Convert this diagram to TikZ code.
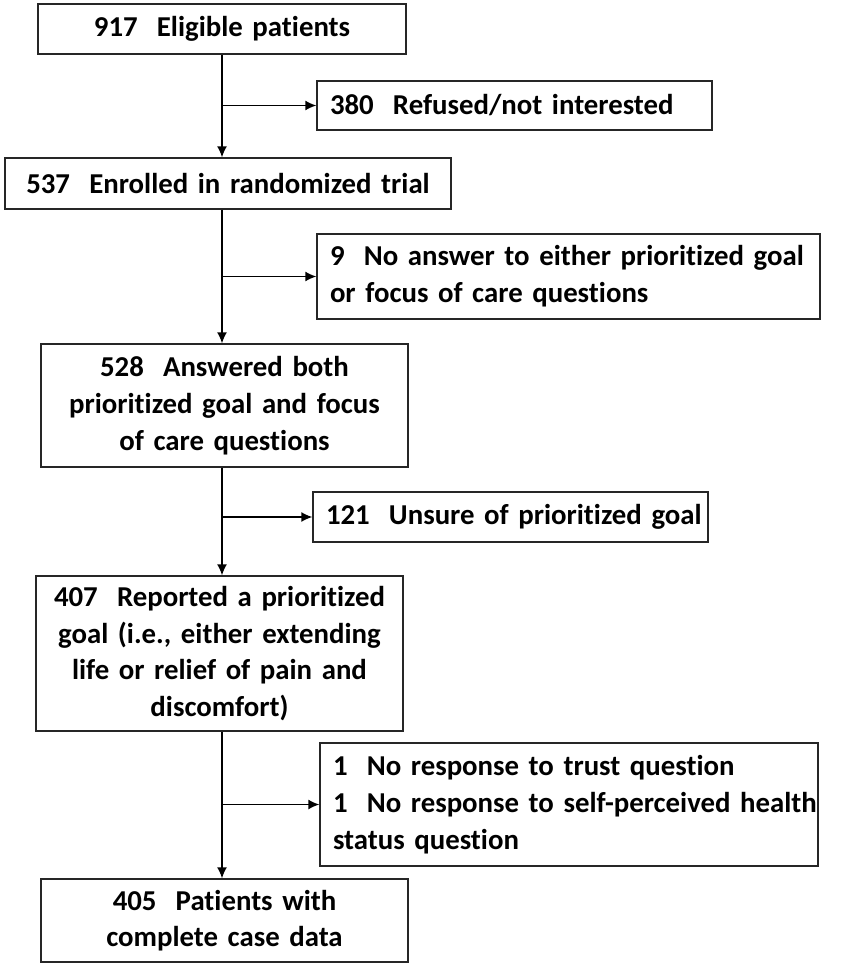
\documentclass[tikz,border=0pt]{standalone}
\usepackage{fontspec}
\setmainfont{Carlito}[Ligatures=NoCommon]
\usetikzlibrary{arrows.meta}

\begin{document}
\begin{tikzpicture}[
    x=1pt, y=-1pt,
    box/.style={rectangle,draw=black!85,line width=1.4pt,inner xsep=13pt,inner ysep=0pt,
        font=\fontsize{28.8}{36.7}\selectfont\bfseries},
    mainbox/.style={box,align=center},
    sidebox/.style={box,align=left},
    flow/.style={-{Latex[length=11pt,width=10pt]},line width=1.4pt},
]
\useasboundingbox (0,0) rectangle (854,966);
\coordinate (sp) at (222,0);

\node[mainbox,text width=342pt,minimum height=50pt] (elig) at (222,29) {917\ \ Eligible patients};
\node[sidebox,text width=369pt,minimum height=49pt] (refused) at (514.5,105.5) {\mbox{380\ \ Refused/not interested}};
\node[mainbox,text width=420pt,minimum height=51pt] (enrol) at (228,183.5) {537\ \ Enrolled in randomized trial};
\node[sidebox,text width=477pt,minimum height=85pt] (noans) at (568.5,276.5)
    {\mbox{9\ \ No answer to either prioritized goal}\\or focus of care questions};
\node[mainbox,text width=341pt,minimum height=123pt] (answered) at (224.5,405.5)
    {528\ \ Answered both\\prioritized goal and focus\\of care questions};
\node[sidebox,text width=369pt,minimum height=50pt] (unsure) at (510.5,517) {\mbox{121\ \ Unsure of prioritized goal}};
\node[mainbox,text width=341pt,minimum height=155pt] (reported) at (219.5,653.5)
    {407\ \ Reported a prioritized\\goal (i.e., either extending\\life or relief of pain and\\discomfort)};
\node[sidebox,text width=472pt,minimum height=123pt] (noresp) at (569,804.5)
    {1\ \ No response to trust question\\\mbox{1\ \ No response to self-perceived health}\\status question};
\node[mainbox,text width=341pt,minimum height=83pt] (complete) at (224.5,920.5)
    {405\ \ Patients with\\complete case data};

\draw[flow] (elig.south -| sp) -- (enrol.north -| sp);
\draw[flow] (refused.west -| sp) -- (refused.west);
\draw[flow] (enrol.south -| sp) -- (answered.north -| sp);
\draw[flow] (noans.west -| sp) -- (noans.west);
\draw[flow] (answered.south -| sp) -- (reported.north -| sp);
\draw[flow] (unsure.west -| sp) -- (unsure.west);
\draw[flow] (reported.south -| sp) -- (complete.north -| sp);
\draw[flow] (noresp.west -| sp) -- (noresp.west);
\end{tikzpicture}
\end{document}
